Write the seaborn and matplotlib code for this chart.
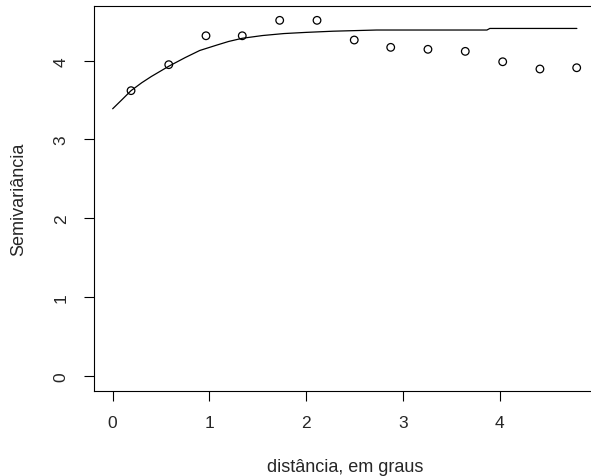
import matplotlib
matplotlib.use("Agg")
import matplotlib.pyplot as plt
import seaborn as sns
import pandas as pd

# Empirical semivariogram points
dist = [0.19, 0.58, 0.965, 1.34, 1.727, 2.113, 2.498, 2.875, 3.26, 3.646, 4.033, 4.418, 4.798]
semivar = [3.62, 3.95, 4.317, 4.317, 4.513, 4.513, 4.263, 4.17, 4.145, 4.119, 3.987, 3.895, 3.911]

# Fitted model line
model_x = [0, 0.1, 0.19, 0.3, 0.4, 0.58, 0.75, 0.9, 1.08, 1.2, 1.34, 1.55, 1.77, 2.0, 2.28, 2.73, 3.87, 3.9, 4.8]
model_y = [3.39, 3.51, 3.62, 3.72, 3.80, 3.93, 4.04, 4.13, 4.20, 4.245, 4.285, 4.32, 4.345, 4.36, 4.375, 4.39, 4.39, 4.41, 4.41]

x_ticks = [0, 1, 2, 3, 4]
y_ticks = [0, 1, 2, 3, 4]

sns.set_style("ticks")
plt.rcParams['font.family'] = ['Liberation Sans', 'DejaVu Sans']

fig = plt.figure(figsize=(5.91, 4.77), dpi=100)
ax = fig.add_axes([94/591, 1 - 391.7/477, (591 - 94)/591, (391.7 - 7)/477])

pts = pd.DataFrame({"x": dist, "y": semivar})
mdl = pd.DataFrame({"x": model_x, "y": model_y})

sns.lineplot(data=mdl, x="x", y="y", ax=ax, color="black", linewidth=0.9,
             sort=False, estimator=None)
sns.scatterplot(data=pts, x="x", y="y", ax=ax, marker="o", s=30,
                facecolor="none", edgecolor="black", linewidth=0.9, zorder=3)

ax.set_xlim(-0.193, 4.946)
ax.set_ylim(-0.19, 4.695)
ax.set_xticks(x_ticks)
ax.set_yticks(y_ticks)
ax.set_xticklabels([str(t) for t in x_ticks], fontsize=12.5)
ax.set_yticklabels([str(t) for t in y_ticks], fontsize=12.5, rotation=90, va="center")
ax.tick_params(axis="x", length=7.2, width=0.8, pad=10, color="black")
ax.tick_params(axis="y", length=7.2, width=0.8, pad=11, color="black")

for s in ax.spines.values():
    s.set_color("black")
    s.set_linewidth(0.8)
ax.spines["right"].set_visible(False)

ax.set_xlabel("distância, em graus", fontsize=13)
ax.set_ylabel("Semivariância", fontsize=13)
ax.xaxis.set_label_coords(0.505, -0.175)
ax.yaxis.set_label_coords(-0.135, 0.5)

fig.savefig("out.png", dpi=100)
